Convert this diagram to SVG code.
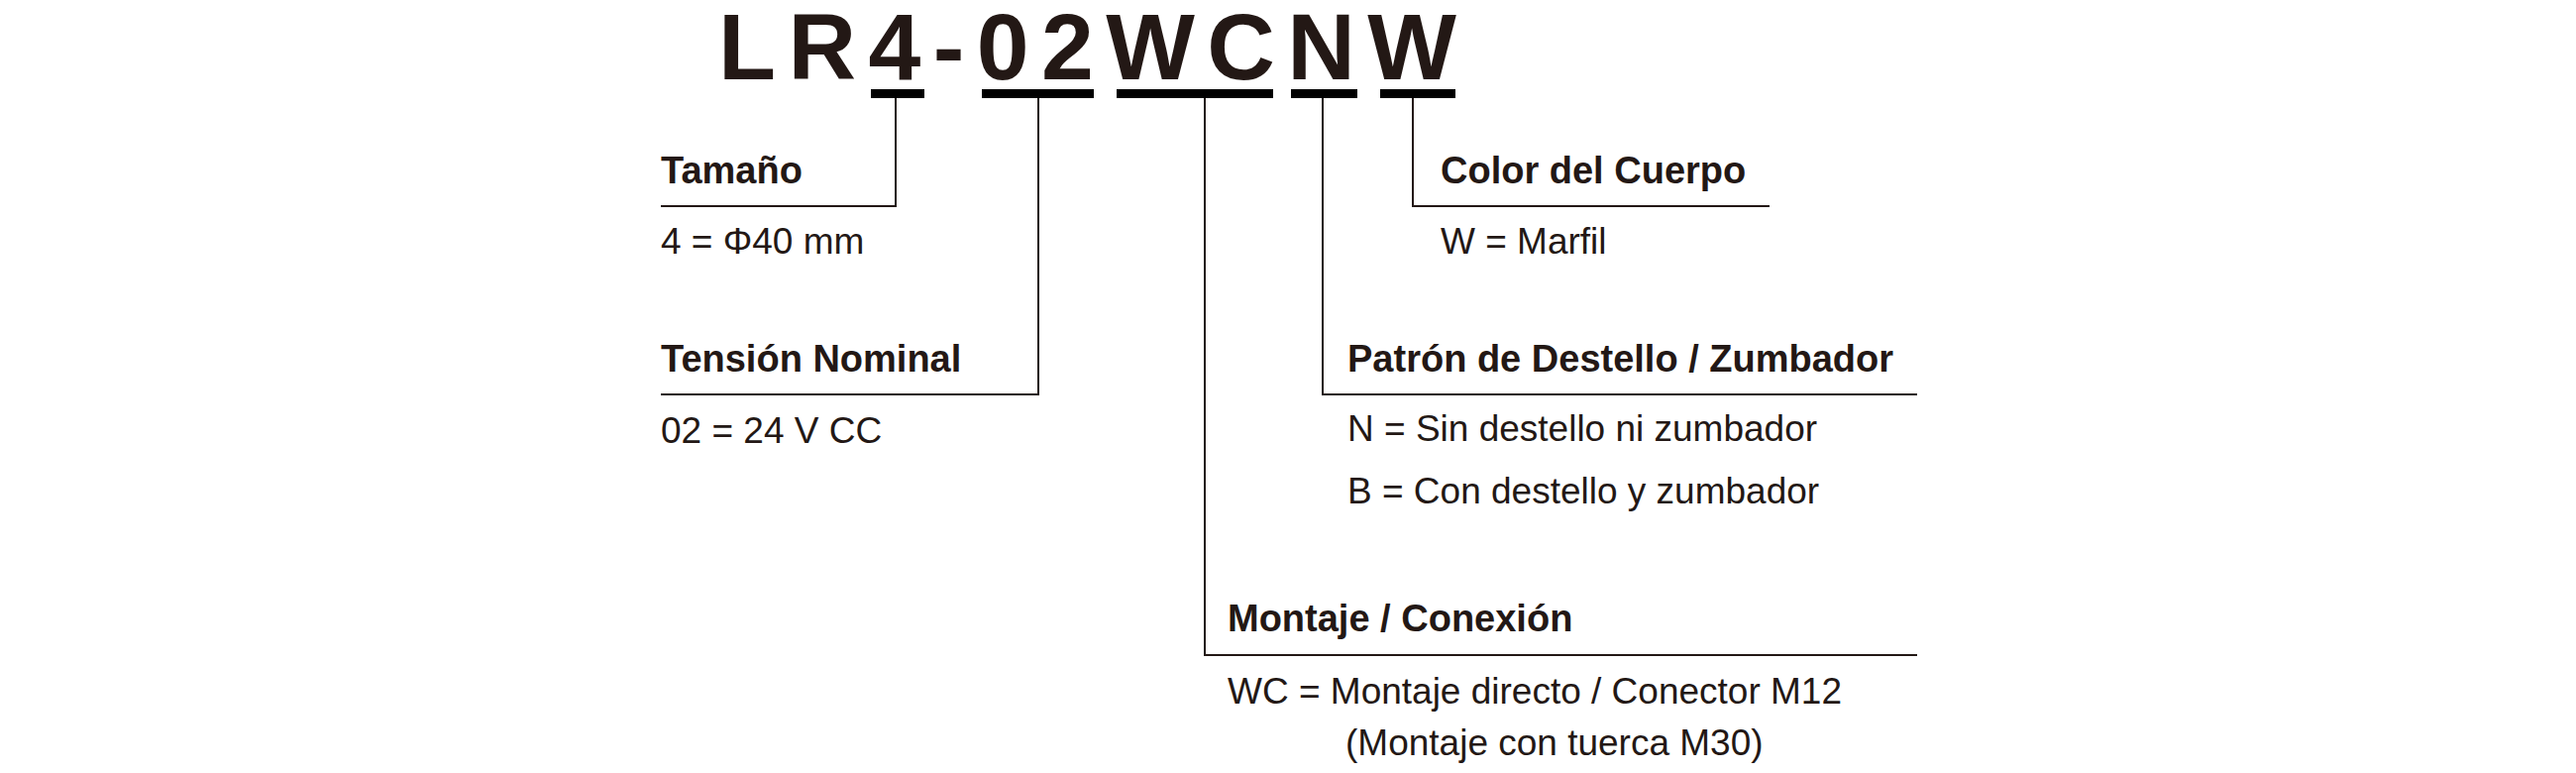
<svg xmlns="http://www.w3.org/2000/svg" width="2600" height="780" viewBox="0 0 2600 780">
<style>
.t{font-family:"Liberation Sans",Arial,sans-serif;fill:#231815}
.h{font-size:38px;font-weight:bold}
.v{font-size:37px}
.ln{stroke:#231815;stroke-width:2;fill:none}
.bar{fill:#000}
</style>
<rect width="2600" height="780" fill="#fff"/>
<g id="title"><text class="t" x="725" y="80" font-size="95" font-weight="bold" textLength="745" lengthAdjust="spacing" fill="#000">LR4-02WCNW</text>
<rect class="bar" x="879" y="90" width="54" height="9"/>
<rect class="bar" x="991" y="90" width="113" height="9"/>
<rect class="bar" x="1127" y="90" width="158" height="9"/>
<rect class="bar" x="1303" y="90" width="67" height="9"/>
<rect class="bar" x="1393" y="90" width="76" height="9"/>
</g>
<g id="connectors">
<polyline class="ln" points="904,99 904,208 667,208"/>
<polyline class="ln" points="1048,99 1048,398 667,398"/>
<polyline class="ln" points="1216,99 1216,661 1935,661"/>
<polyline class="ln" points="1335,99 1335,398 1935,398"/>
<polyline class="ln" points="1426,99 1426,208 1786,208"/>
</g>
<g id="tamano"><text class="t h" x="667" y="185">Tamaño</text><text class="t v" x="667" y="256">4 = Φ40 mm</text></g>
<g id="tension"><text class="t h" x="667" y="375">Tensión Nominal</text><text class="t v" x="667" y="447">02 = 24 V CC</text></g>
<g id="color"><text class="t h" x="1454" y="185">Color del Cuerpo</text><text class="t v" x="1454" y="256">W = Marfil</text></g>
<g id="patron"><text class="t h" x="1360" y="375">Patrón de Destello / Zumbador</text><text class="t v" x="1360" y="445">N = Sin destello ni zumbador</text><text class="t v" x="1360" y="508">B = Con destello y zumbador</text></g>
<g id="montaje"><text class="t h" x="1239" y="637">Montaje / Conexión</text><text class="t v" x="1239" y="710">WC = Montaje directo / Conector M12</text><text class="t v" x="1358" y="762">(Montaje con tuerca M30)</text></g>
</svg>
